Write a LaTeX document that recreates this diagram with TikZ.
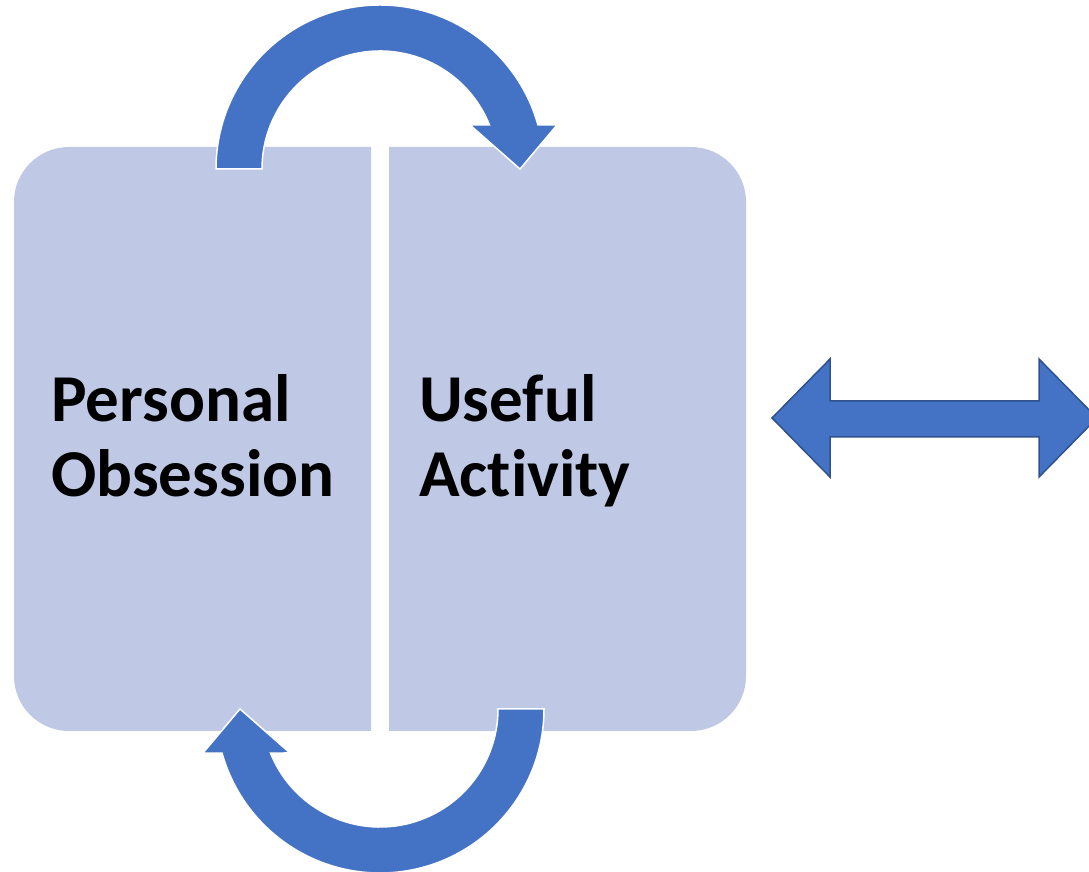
\documentclass[tikz,border=0pt]{standalone}
\usepackage{fontspec}
\setmainfont{Carlito}[Ligatures=NoCommon]
\usepackage{xcolor}
\usetikzlibrary{calc}
\definecolor{boxfill}{HTML}{BFC9E5}
\definecolor{arrowfill}{HTML}{4472C4}
\definecolor{arrowline}{HTML}{2F528F}

\begin{document}
\begin{tikzpicture}[x=1pt,y=1pt,
		panel/.style={fill=boxfill},
		looparrow/.style={fill=arrowfill,draw=white,line width=1.5pt},
		boxtext/.style={font=\fontsize{67}{75}\selectfont\bfseries,align=left,inner sep=0pt,anchor=base west}]
			\useasboundingbox (0,0) rectangle (1089,872);
			% the two halves
			\fill[panel] (371,141) -- (69,141) arc[start angle=270,end angle=180,radius=55]
				-- (14,670) arc[start angle=180,end angle=90,radius=55] -- (371,725) -- cycle;
			\fill[panel] (389,141) -- (691,141) arc[start angle=270,end angle=360,radius=55]
				-- (746,670) arc[start angle=0,end angle=90,radius=55] -- (389,725) -- cycle;
			\node[boxtext] (obsession) at (51,375) {Personal\\Obsession};
			\node[boxtext] (activity) at (419,375) {Useful\\Activity};
			% loop arrows
			\coordinate (top) at (380,703);
			\coordinate (bottom) at (380,163);
			\draw[looparrow] ($(top)+(180:164)$) arc[start angle=180,end angle=15.6,radius=164]
				-- (557,747) -- (520,703) -- (470,747)
				-- ($(top)+(21.9:118)$) arc[start angle=21.9,end angle=180,radius=118] -- cycle;
			\draw[looparrow] ($(bottom)+(0:164)$) arc[start angle=360,end angle=195.6,radius=164]
				-- (203,119) -- (240,163) -- (290,119)
				-- ($(bottom)+(201.9:118)$) arc[start angle=201.9,end angle=360,radius=118] -- cycle;
			% double arrow
			\draw[fill=arrowfill,draw=arrowline,line width=1.5pt] (772,454) -- (830,513) -- (830,471) -- (1039,471) -- (1039,513)
				-- (1097,454) -- (1039,395) -- (1039,435) -- (830,435) -- (830,395) -- cycle;
		\end{tikzpicture}
\end{document}
